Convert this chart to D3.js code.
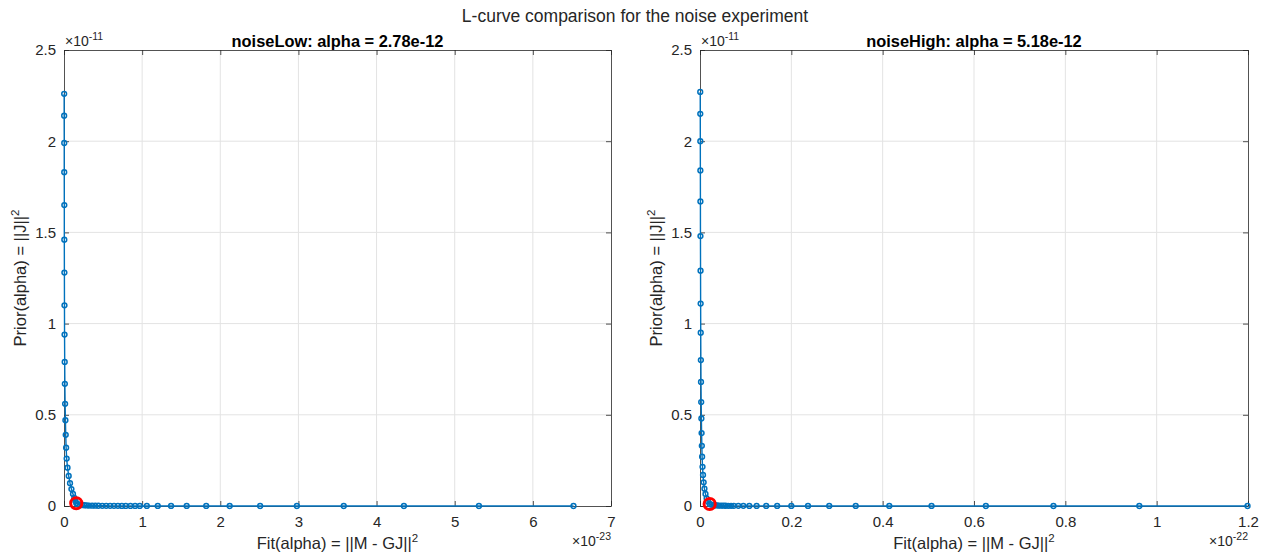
<!DOCTYPE html>
<html>
<head>
<meta charset="utf-8">
<script src="https://cdn.jsdelivr.net/npm/d3@7"></script>
<style>
  html, body { margin: 0; padding: 0; background: #fff; }
  svg { display: block; font-family: "Liberation Sans", Arial, Helvetica, sans-serif; }
</style>
</head>
<body>
<svg id="fig" width="1270" height="557"></svg>
<script>
// L-curve points: Fit(alpha) in units of the x exponent, Prior(alpha) in 1e-11
const lowFit = [0.002, 0.002, 0.003, 0.003, 0.004, 0.004, 0.005, 0.006, 0.007, 0.009, 0.011, 0.014,
  0.018, 0.022, 0.027, 0.034, 0.045, 0.060, 0.077, 0.095, 0.115, 0.132, 0.146, 0.157,
  0.175, 0.20, 0.23, 0.26, 0.29, 0.32, 0.36, 0.40, 0.44, 0.49, 0.54, 0.59, 0.64, 0.69,
  0.74, 0.79, 0.85, 0.91, 0.97, 1.06, 1.20, 1.37, 1.57, 1.82, 2.12, 2.51, 2.98, 3.58,
  4.35, 5.31, 6.52];
const lowPrior = [2.26, 2.14, 1.99, 1.83, 1.65, 1.46, 1.28, 1.10, 0.94, 0.79, 0.67, 0.56,
  0.47, 0.39, 0.32, 0.26, 0.21, 0.165, 0.125, 0.093, 0.066, 0.044, 0.027, 0.015,
  0.010, 0.007, 0.005, 0.004, 0.003, 0.0025, 0.002, 0.0017, 0.0014, 0.0012, 0.001, 0.0009,
  0.0008, 0.0007, 0.0006, 0.0005, 0.00045, 0.0004, 0.00035, 0.0003, 0.00026, 0.00022,
  0.00019, 0.00016, 0.00013, 0.0001, 0.00008, 0.00006, 0.00004, 0.00003, 0.00002];
const lowBest = 23;

const highFit = [0.0005, 0.0006, 0.0007, 0.0008, 0.0009, 0.001, 0.0012, 0.0014, 0.0016, 0.0019,
  0.0022, 0.0026, 0.003, 0.0035, 0.004, 0.0046, 0.0055, 0.0066, 0.008, 0.0097, 0.012,
  0.0145, 0.0175, 0.0212,
  0.025, 0.029, 0.033, 0.037, 0.041, 0.046, 0.051, 0.056, 0.062, 0.068, 0.074, 0.084,
  0.095, 0.108, 0.124, 0.145, 0.169, 0.200, 0.2365, 0.283, 0.341, 0.4145, 0.507, 0.626,
  0.774, 0.962, 1.199];
const highPrior = [2.27, 2.15, 2.00, 1.84, 1.67, 1.48, 1.29, 1.11, 0.95, 0.80, 0.68, 0.57,
  0.48, 0.40, 0.33, 0.27, 0.215, 0.17, 0.13, 0.095, 0.066, 0.042, 0.024, 0.011,
  0.007, 0.005, 0.004, 0.003, 0.0025, 0.002, 0.0017, 0.0014, 0.0012, 0.001, 0.0009, 0.0008,
  0.0007, 0.0006, 0.0005, 0.00045, 0.0004, 0.00035, 0.0003, 0.00026, 0.00022, 0.00019,
  0.00016, 0.00012, 0.00009, 0.00006, 0.00004];
const highBest = 23;

const lowXTicks = [0, 1, 2, 3, 4, 5, 6, 7];
const highXTicks = [0, 0.2, 0.4, 0.6, 0.8, 1, 1.2];
const yTicks = [0, 0.5, 1, 1.5, 2, 2.5];

const figTitle = "L-curve comparison for the noise experiment";
const panels = [
  { title: "noiseLow: alpha = 2.78e-12", fit: lowFit, prior: lowPrior, best: lowBest,
    xMax: 7, xTicks: lowXTicks, xExp: "-23", left: 64, right: 611 },
  { title: "noiseHigh: alpha = 5.18e-12", fit: highFit, prior: highPrior, best: highBest,
    xMax: 1.2, xTicks: highXTicks, xExp: "-22", left: 700, right: 1248 }
];

const svg = d3.select("#fig");
const plotTop = 50, plotBottom = 506;
const axisColor = "#262626";
const textColor = "#262626";
const lineColor = "#0072BD";

svg.append("text")
  .attr("x", 635).attr("y", 22)
  .attr("text-anchor", "middle")
  .attr("font-size", 17.5).attr("fill", textColor)
  .text(figTitle);

panels.forEach(p => {
  const x = d3.scaleLinear().domain([0, p.xMax]).range([p.left, p.right]);
  const y = d3.scaleLinear().domain([0, 2.5]).range([plotBottom, plotTop]);
  const g = svg.append("g");

  // grid
  g.append("g").selectAll("line").data(p.xTicks.slice(1, -1)).join("line")
    .attr("x1", d => x(d)).attr("x2", d => x(d))
    .attr("y1", plotTop).attr("y2", plotBottom)
    .attr("stroke", "#e3e3e3").attr("stroke-width", 1);
  g.append("g").selectAll("line").data(yTicks.slice(1, -1)).join("line")
    .attr("x1", p.left).attr("x2", p.right)
    .attr("y1", d => y(d)).attr("y2", d => y(d))
    .attr("stroke", "#e3e3e3").attr("stroke-width", 1);

  // axes (ticks pointing inward, box on)
  const fmt = d => String(+d.toFixed(2));
  const xb = g.append("g").attr("transform", `translate(0,${plotBottom})`)
    .call(d3.axisBottom(x).tickValues(p.xTicks).tickSizeInner(-5).tickSizeOuter(0).tickPadding(10).tickFormat(fmt));
  const xt = g.append("g").attr("transform", `translate(0,${plotTop})`)
    .call(d3.axisTop(x).tickValues(p.xTicks).tickSizeInner(-5).tickSizeOuter(0).tickFormat(""));
  const yl = g.append("g").attr("transform", `translate(${p.left},0)`)
    .call(d3.axisLeft(y).tickValues(yTicks).tickSizeInner(-5).tickSizeOuter(0).tickPadding(8).tickFormat(fmt));
  const yr = g.append("g").attr("transform", `translate(${p.right},0)`)
    .call(d3.axisRight(y).tickValues(yTicks).tickSizeInner(-5).tickSizeOuter(0).tickFormat(""));
  [xb, xt, yl, yr].forEach(a => {
    a.selectAll(".domain").attr("stroke", axisColor).attr("stroke-width", 0.8);
    a.selectAll(".tick line").attr("stroke", axisColor).attr("stroke-width", 0.8);
    a.selectAll(".tick text").attr("fill", textColor).attr("font-size", 15)
      .attr("font-family", "'Liberation Sans', Arial, sans-serif");
  });

  // line + markers
  const pts = p.fit.map((v, i) => [v, p.prior[i]]);
  g.append("path").datum(pts)
    .attr("fill", "none").attr("stroke", lineColor).attr("stroke-width", 1.4)
    .attr("d", d3.line().x(d => x(d[0])).y(d => y(d[1])));
  g.append("g").selectAll("circle").data(pts).join("circle")
    .attr("cx", d => x(d[0])).attr("cy", d => y(d[1])).attr("r", 2.4)
    .attr("fill", "none").attr("stroke", lineColor).attr("stroke-width", 1.5);
  const b = pts[p.best];
  g.append("circle").attr("cx", x(b[0])).attr("cy", y(b[1])).attr("r", 5.6)
    .attr("fill", "none").attr("stroke", "#ff0000").attr("stroke-width", 3);

  // titles and labels
  const cx = (p.left + p.right) / 2;
  g.append("text").attr("x", cx).attr("y", 47).attr("text-anchor", "middle")
    .attr("font-size", 16.4).attr("font-weight", "bold").attr("fill", "#000")
    .text(p.title);

  const yExp = g.append("text").attr("x", p.left + 1).attr("y", 46)
    .attr("font-size", 14).attr("fill", textColor);
  yExp.append("tspan").text("×10");
  yExp.append("tspan").attr("dy", -6).attr("font-size", 10.5).text("-11");

  const xExp = g.append("text").attr("x", p.right).attr("y", 546)
    .attr("font-size", 14).attr("fill", textColor).attr("text-anchor", "end");
  xExp.append("tspan").text("×10");
  xExp.append("tspan").attr("dy", -6).attr("font-size", 10.5).text(p.xExp);

  const xl = g.append("text").attr("x", cx).attr("y", 549).attr("text-anchor", "middle")
    .attr("font-size", 16.5).attr("fill", textColor);
  xl.append("tspan").text("Fit(alpha) = ||M - GJ||");
  xl.append("tspan").attr("dy", -7).attr("font-size", 11.5).text("2");

  const ylab = g.append("text")
    .attr("transform", `translate(${p.left - 38},${(plotTop + plotBottom) / 2}) rotate(-90)`)
    .attr("text-anchor", "middle").attr("font-size", 16.5).attr("fill", textColor);
  ylab.append("tspan").text("Prior(alpha) = ||J||");
  ylab.append("tspan").attr("dy", -7).attr("font-size", 11.5).text("2");
});
</script>
</body>
</html>
